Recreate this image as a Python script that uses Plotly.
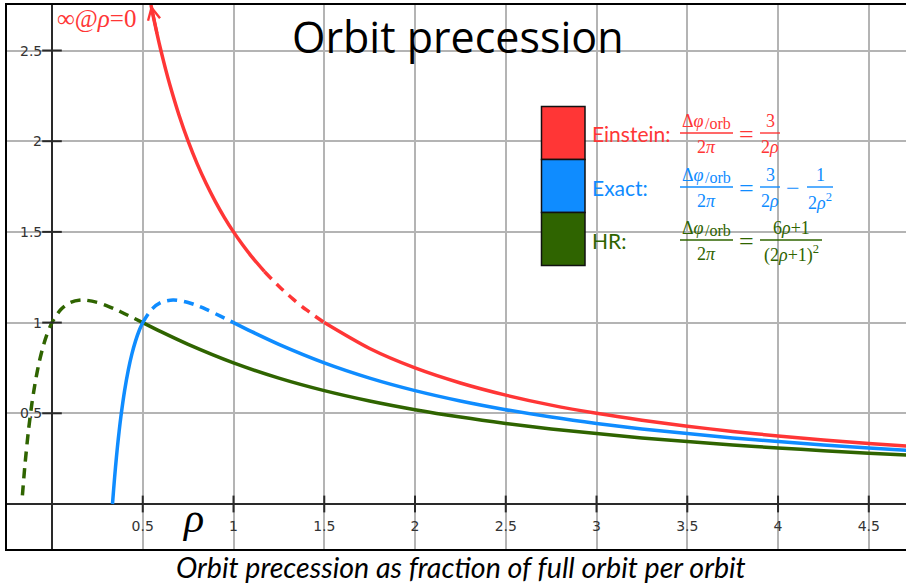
import plotly.graph_objects as go

# ---------------- data ----------------
# Einstein: solid (top part), dashed (middle), solid (tail)
ein_rho_a = [0.5453, 0.55, 0.56, 0.58, 0.60, 0.625, 0.65, 0.70, 0.75, 0.80, 0.85, 0.90, 0.95, 1.00, 1.05, 1.10, 1.17]
ein_val_a = [2.751, 2.727, 2.679, 2.586, 2.500, 2.400, 2.308, 2.143, 2.000, 1.875, 1.765, 1.667, 1.579, 1.500, 1.429, 1.364, 1.282]
ein_rho_b = [1.17, 1.25, 1.33, 1.40, 1.50]
ein_val_b = [1.282, 1.200, 1.128, 1.071, 1.000]
ein_rho_c = [1.50, 1.75, 2.00, 2.25, 2.50, 2.75, 3.00, 3.25, 3.50, 3.75, 4.00, 4.25, 4.50, 4.75]
ein_val_c = [1.000, 0.857, 0.750, 0.667, 0.600, 0.545, 0.500, 0.462, 0.429, 0.400, 0.375, 0.353, 0.333, 0.316]

# Exact
ex_rho_a = [0.3333, 0.34, 0.35, 0.36, 0.37, 0.38, 0.40, 0.42, 0.44, 0.46, 0.48, 0.50]
ex_val_a = [0.000, 0.0865, 0.204, 0.309, 0.402, 0.485, 0.625, 0.737, 0.826, 0.898, 0.955, 1.000]
ex_rho_b = [0.50, 0.55, 0.60, 0.6667, 0.70, 0.75, 0.80, 0.85, 0.90, 0.95, 1.00]
ex_val_b = [1.000, 1.074, 1.111, 1.125, 1.122, 1.111, 1.094, 1.073, 1.049, 1.025, 1.000]
ex_rho_c = [1.00, 1.10, 1.25, 1.50, 1.75, 2.00, 2.25, 2.50, 2.75, 3.00, 3.25, 3.50, 3.75, 4.00, 4.25, 4.50, 4.75]
ex_val_c = [1.000, 0.950, 0.880, 0.778, 0.694, 0.625, 0.568, 0.520, 0.479, 0.444, 0.414, 0.388, 0.364, 0.344, 0.325, 0.309, 0.294]

# HR
hr_rho_a = [-0.163, -0.15, -0.13, -0.11, -0.09, -0.07, -0.05, -0.03, 0.00, 0.05, 0.10, 0.1667, 0.25, 0.30, 0.35, 0.40, 0.45, 0.50]
hr_val_a = [0.048, 0.204, 0.402, 0.559, 0.684, 0.784, 0.864, 0.928, 1.000, 1.074, 1.111, 1.125, 1.111, 1.094, 1.073, 1.049, 1.025, 1.000]
hr_rho_b = [0.50, 0.60, 0.75, 1.00, 1.25, 1.50, 1.75, 2.00, 2.25, 2.50, 2.75, 3.00, 3.25, 3.50, 3.75, 4.00, 4.25, 4.50, 4.75]
hr_val_b = [1.000, 0.950, 0.880, 0.778, 0.694, 0.625, 0.568, 0.520, 0.479, 0.444, 0.414, 0.388, 0.364, 0.344, 0.325, 0.309, 0.294, 0.280, 0.268]

x_ticks = [0.5, 1, 1.5, 2, 2.5, 3, 3.5, 4, 4.5]
x_tick_labels = ["0.5", "1", "1.5", "2", "2.5", "3", "3.5", "4", "4.5"]
y_ticks = [0.5, 1, 1.5, 2, 2.5]
y_tick_labels = ["0.5", "1", "1.5", "2", "2.5"]

# ---------------- style ----------------
RED = "#ff3636"
BLUE = "#0f8cff"
GREEN = "#2f6400"
GRID = "#b4b4b4"
AXIS = "#2a2a2a"
LW = 3.5
DASH = "10px,7px"

W, H = 906, 586
ML, MR, MT, MB = 7, 0, 5, 37


def px(x):
    return (x - ML) / (W - ML - MR)


def py(y):
    return (H - MB - y) / (H - MB - MT)


fig = go.Figure()


def seg(xs, ys, color, dashed=False):
    fig.add_trace(go.Scatter(
        x=xs, y=ys, mode="lines",
        line=dict(color=color, width=LW, shape="spline", smoothing=0.8,
                  dash=DASH if dashed else "solid"),
        hoverinfo="skip", showlegend=False))


seg(hr_rho_a, hr_val_a, GREEN, True)
seg(hr_rho_b, hr_val_b, GREEN)
seg(ex_rho_a, ex_val_a, BLUE)
seg(ex_rho_b, ex_val_b, BLUE, True)
seg(ex_rho_c, ex_val_c, BLUE)
seg(ein_rho_a, ein_val_a, RED)
seg(ein_rho_b, ein_val_b, RED, True)
seg(ein_rho_c, ein_val_c, RED)

# tick marks on the zero lines
fig.add_trace(go.Scatter(
    x=x_ticks, y=[0] * len(x_ticks), mode="markers",
    marker=dict(symbol="line-ns", size=12, line=dict(color=AXIS, width=2)),
    hoverinfo="skip", showlegend=False))
fig.add_trace(go.Scatter(
    x=[0] * len(y_ticks), y=y_ticks, mode="markers",
    marker=dict(symbol="line-ew", size=14, line=dict(color=AXIS, width=2)),
    hoverinfo="skip", showlegend=False))

# x tick labels (below the x zero line)
fig.add_trace(go.Scatter(
    x=x_ticks, y=[-0.127] * len(x_ticks), mode="text", text=x_tick_labels,
    textfont=dict(family="DejaVu Sans", size=14, color="#333333"),
    textposition="middle center", hoverinfo="skip", showlegend=False))

annotations = []
for v, lab in zip(y_ticks, y_tick_labels):
    annotations.append(dict(x=0, y=v, xref="x", yref="y", text=lab, showarrow=False,
                            xanchor="right", yanchor="middle", xshift=-8,
                            font=dict(family="DejaVu Sans", size=14, color="#333333")))

# arrow at the top of the Einstein curve
annotations.append(dict(x=ein_rho_a[0], y=ein_val_a[0], ax=ein_rho_a[3], ay=ein_val_a[3],
                        xref="x", yref="y", axref="x", ayref="y", text="",
                        showarrow=True, arrowhead=5, arrowsize=0.8, arrowwidth=3,
                        arrowcolor=RED))

# title / caption / axis symbol
annotations.append(dict(x=px(458), y=py(36), xref="paper", yref="paper", text="Orbit precession",
                        showarrow=False, xanchor="center", yanchor="middle",
                        font=dict(family="Open Sans", size=43, color="#000000")))
annotations.append(dict(x=px(461), y=py(567), xref="paper", yref="paper",
                        text="<i>Orbit precession as fraction of full orbit per orbit</i>",
                        showarrow=False, xanchor="center", yanchor="middle",
                        font=dict(family="Lato", size=28.6, color="#000000")))
annotations.append(dict(x=px(193), y=py(518), xref="paper", yref="paper", text="<i>ρ</i>",
                        showarrow=False, xanchor="center", yanchor="middle",
                        font=dict(family="Liberation Serif", size=42, color="#000000")))
annotations.append(dict(x=px(55), y=py(19), xref="paper", yref="paper", text="∞@<i>ρ</i>=0",
                        showarrow=False, xanchor="left", yanchor="middle",
                        font=dict(family="Liberation Serif", size=25, color=RED)))

shapes = []
# white box behind the legend
shapes.append(dict(type="rect", xref="paper", yref="paper", x0=px(534), x1=px(843),
                   y0=py(278), y1=py(98), fillcolor="white", line=dict(width=0), layer="between"))
# colour swatches
for (y0, y1, c) in [(106.5, 159.5, RED), (159.5, 212.5, BLUE), (212.5, 265.5, GREEN)]:
    shapes.append(dict(type="rect", xref="paper", yref="paper", x0=px(541.5), x1=px(585),
                       y0=py(y1), y1=py(y0), fillcolor=c, line=dict(color="#111111", width=1.5),
                       layer="above"))

SANS = "Lato"
SERIF = "Liberation Serif"


def txt(x, y, s, color, size=18, family=SERIF, anchor="center"):
    annotations.append(dict(x=px(x), y=py(y), xref="paper", yref="paper", text=s,
                            showarrow=False, xanchor=anchor, yanchor="middle",
                            font=dict(family=family, size=size, color=color)))


def bar(x0, x1, y, color):
    shapes.append(dict(type="line", xref="paper", yref="paper", x0=px(x0), x1=px(x1),
                       y0=py(y), y1=py(y), line=dict(color=color, width=1.4), layer="above"))


def lhs(ybar, color):
    txt(680, ybar - 12, "Δ<i>φ</i>", color, 18, anchor="left")
    txt(703, ybar - 10, "/orb", color, 16, anchor="left")
    bar(680, 733, ybar, color)
    txt(706, ybar + 14, "2<i>π</i>", color, 18)
    txt(746, ybar + 1, "=", color, 26)


rows = [133, 187, 240]
labels = ["Einstein:", "Exact:", "HR:"]
colors = [RED, BLUE, GREEN]
for yb, lab, c in zip(rows, labels, colors):
    txt(590, yb, lab, c, 21, SANS, "left")
    lhs(yb, c)

# Einstein rhs
txt(770, rows[0] - 12, "3", RED)
bar(760, 780, rows[0], RED)
txt(770, rows[0] + 14, "2<i>ρ</i>", RED)
# Exact rhs
txt(770, rows[1] - 12, "3", BLUE)
bar(760, 780, rows[1], BLUE)
txt(770, rows[1] + 14, "2<i>ρ</i>", BLUE)
txt(793, rows[1] + 1, "−", BLUE, 24)
txt(820, rows[1] - 12, "1", BLUE)
bar(807, 833, rows[1], BLUE)
txt(820, rows[1] + 14, "2<i>ρ</i><sup>2</sup>", BLUE)
# HR rhs
txt(791, rows[2] - 12, "6<i>ρ</i>+1", GREEN)
bar(760, 822, rows[2], GREEN)
txt(791, rows[2] + 14, "(2<i>ρ</i>+1)<sup>2</sup>", GREEN)

fig.update_layout(
    width=W, height=H, autosize=False,
    margin=dict(l=ML, r=MR, t=MT, b=MB, pad=0),
    paper_bgcolor="white", plot_bgcolor="white",
    showlegend=False,
    xaxis=dict(range=[-0.2479, 4.705], dtick=0.5, tick0=0, showgrid=True,
               gridcolor=GRID, gridwidth=1.5, zeroline=True, zerolinecolor=AXIS,
               zerolinewidth=2, showticklabels=False, ticks="",
               showline=True, mirror=True, linecolor="#000000", linewidth=2),
    yaxis=dict(range=[-0.2481, 2.7508], dtick=0.5, tick0=0, showgrid=True,
               gridcolor=GRID, gridwidth=1.5, zeroline=True, zerolinecolor=AXIS,
               zerolinewidth=2, showticklabels=False, ticks="",
               showline=True, mirror=False, linecolor="#000000", linewidth=2),
    annotations=annotations,
    shapes=shapes,
)

fig.write_html(
    "out.html",
    config={"displayModeBar": False},
    post_script="document.body.style.margin='0';document.body.style.overflow='hidden';",
)
